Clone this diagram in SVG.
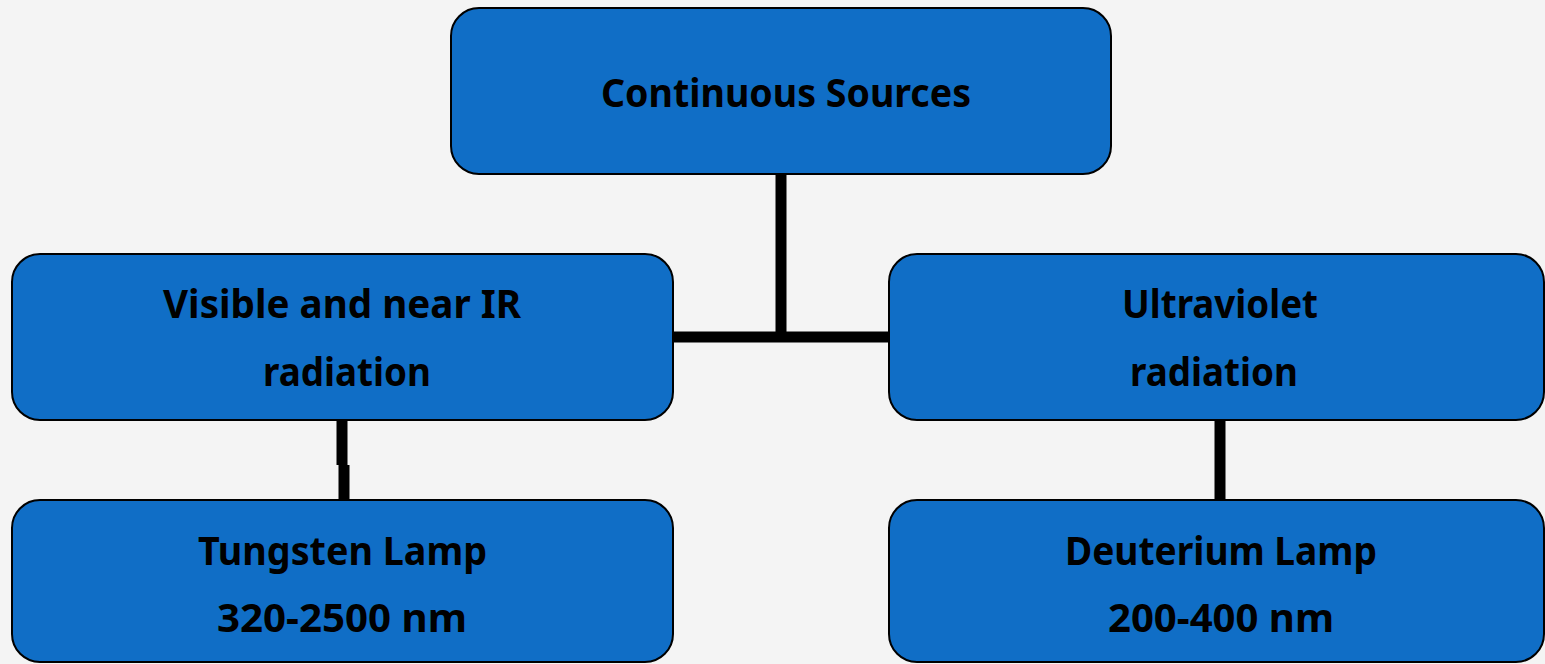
<svg xmlns="http://www.w3.org/2000/svg" width="1545" height="664" viewBox="0 0 1545 664">
<style>
.box{fill:#106ec6;stroke:#000;stroke-width:2}
.conn{stroke:#000;stroke-width:11;fill:none}
.t{font-family:"Noto Sans","Open Sans","DejaVu Sans",sans-serif;font-weight:bold;font-size:39px;fill:#000;text-anchor:middle}
</style>
<rect width="1545" height="664" fill="#f4f4f4"/>
<g id="connectors">
<path class="conn" d="M781 172 V337 M672 337 H890"/>
<path class="conn" d="M342 418 V465 M344 465 V502"/>
<path class="conn" d="M1220 418 V502"/>
</g>
<g id="continuous">
<rect class="box" x="451" y="8" width="660" height="166" rx="28"/>
<text class="t" x="786" y="107" textLength="370" lengthAdjust="spacingAndGlyphs">Continuous Sources</text>
</g>
<g id="visible">
<rect class="box" x="12" y="254" width="661" height="166" rx="28"/>
<text class="t" x="342" y="318" textLength="358" lengthAdjust="spacingAndGlyphs">Visible and near IR</text>
<text class="t" x="347" y="386" textLength="168" lengthAdjust="spacingAndGlyphs">radiation</text>
</g>
<g id="uv">
<rect class="box" x="889" y="254" width="655" height="166" rx="28"/>
<text class="t" x="1220" y="318" textLength="196" lengthAdjust="spacingAndGlyphs">Ultraviolet</text>
<text class="t" x="1214" y="386" textLength="168" lengthAdjust="spacingAndGlyphs">radiation</text>
</g>
<g id="tungsten">
<rect class="box" x="12" y="500" width="661" height="162" rx="28"/>
<text class="t" x="342.5" y="565" textLength="289" lengthAdjust="spacingAndGlyphs">Tungsten Lamp</text>
<text class="t" x="342" y="632" textLength="250" lengthAdjust="spacingAndGlyphs">320-2500 nm</text>
</g>
<g id="deuterium">
<rect class="box" x="889" y="500" width="655" height="162" rx="28"/>
<text class="t" x="1221" y="565" textLength="312" lengthAdjust="spacingAndGlyphs">Deuterium Lamp</text>
<text class="t" x="1221" y="632" textLength="226" lengthAdjust="spacingAndGlyphs">200-400 nm</text>
</g>
</svg>
